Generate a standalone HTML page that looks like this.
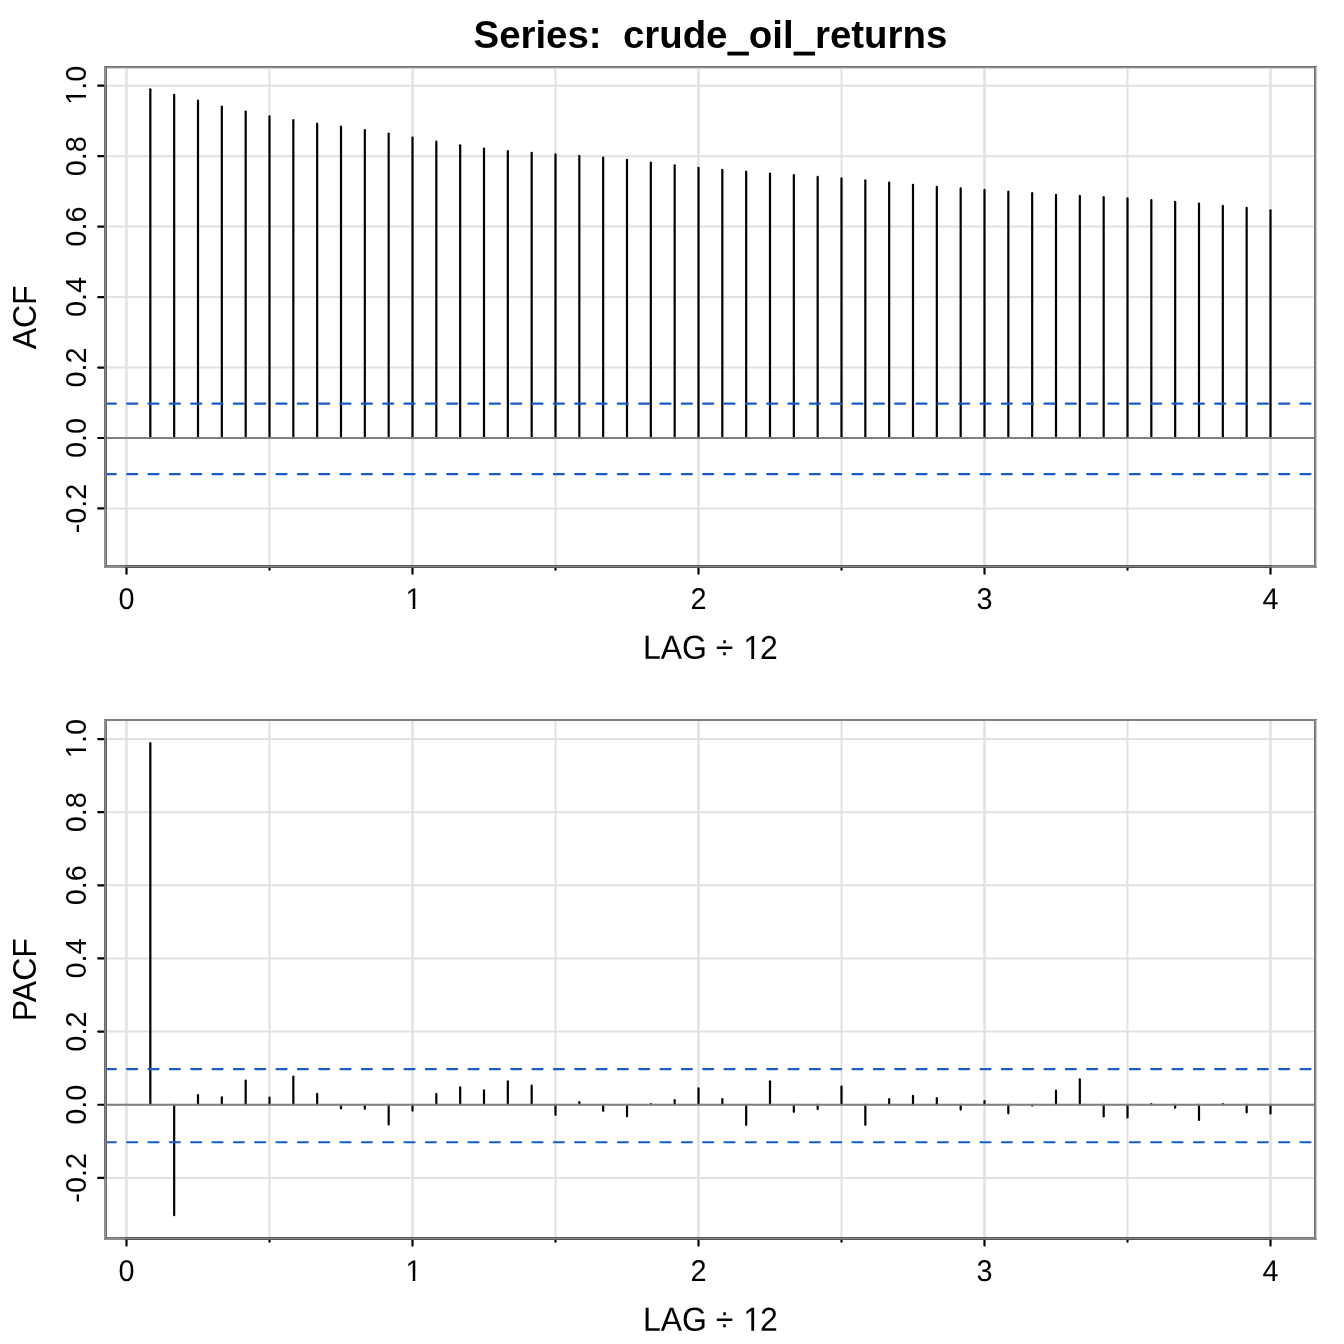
<!DOCTYPE html>
<html lang="en">
<head>
<meta charset="utf-8">
<title>Series: crude_oil_returns</title>
<style>
html,body{margin:0;padding:0;background:#fff;}
body{width:1344px;height:1344px;overflow:hidden;}
svg{display:block;font-family:"Liberation Sans",Arial,Helvetica,sans-serif;fill:#000;}
</style>
</head>
<body>
<svg width="1344" height="1344" viewBox="0 0 1344 1344">
<rect width="1344" height="1344" fill="#fff"/>
<defs><clipPath id="c1"><rect x="-28.01" y="-43.20" width="56.02" height="40.18"/><rect x="-28.01" y="-3.07" width="22.17" height="14.54"/><rect x="0.24" y="-3.07" width="2.55" height="3.32"/><rect x="8.85" y="-3.07" width="19.16" height="14.54"/></clipPath><clipPath id="c2"><rect x="-40.02" y="-43.20" width="80.04" height="40.18"/><rect x="-40.02" y="-3.07" width="22.17" height="14.54"/><rect x="-11.81" y="-3.07" width="2.55" height="3.32"/><rect x="-3.16" y="-3.07" width="43.18" height="14.54"/></clipPath><clipPath id="c3"><rect x="-87.48" y="-48.00" width="174.97" height="44.74"/><rect x="-87.48" y="-3.31" width="121.78" height="16.06"/><rect x="40.90" y="-3.31" width="2.83" height="3.56"/><rect x="50.62" y="-3.31" width="36.86" height="16.06"/></clipPath><clipPath id="ct"><rect x="0" y="0" width="1344" height="49.6"/><rect x="727.49" y="49.6" width="21.36" height="12"/><rect x="793.64" y="49.6" width="21.36" height="12"/></clipPath><clipPath id="c4"><rect x="-28.01" y="-43.20" width="56.02" height="40.18"/><rect x="-28.01" y="-3.07" width="22.17" height="14.54"/><rect x="0.24" y="-3.07" width="2.55" height="3.32"/><rect x="8.85" y="-3.07" width="19.16" height="14.54"/></clipPath><clipPath id="c5"><rect x="-40.02" y="-43.20" width="80.04" height="40.18"/><rect x="-40.02" y="-3.07" width="22.17" height="14.54"/><rect x="-11.96" y="-3.07" width="2.55" height="3.32"/><rect x="-3.16" y="-3.07" width="43.18" height="14.54"/></clipPath><clipPath id="c6"><rect x="-87.48" y="-48.00" width="174.97" height="44.74"/><rect x="-87.48" y="-3.31" width="121.78" height="16.06"/><rect x="40.90" y="-3.31" width="2.83" height="3.56"/><rect x="50.62" y="-3.31" width="36.86" height="16.06"/></clipPath></defs>
<line x1="126.50" y1="67.3" x2="126.50" y2="566.25" stroke="#e1e1e1" stroke-width="2"/>
<line x1="126.50" y1="67.3" x2="126.50" y2="566.25" stroke="#e1e1e1" stroke-width="2"/>
<line x1="269.50" y1="67.3" x2="269.50" y2="566.25" stroke="#e1e1e1" stroke-width="2"/>
<line x1="412.50" y1="67.3" x2="412.50" y2="566.25" stroke="#e1e1e1" stroke-width="2"/>
<line x1="412.50" y1="67.3" x2="412.50" y2="566.25" stroke="#e1e1e1" stroke-width="2"/>
<line x1="555.50" y1="67.3" x2="555.50" y2="566.25" stroke="#e1e1e1" stroke-width="2"/>
<line x1="698.50" y1="67.3" x2="698.50" y2="566.25" stroke="#e1e1e1" stroke-width="2"/>
<line x1="698.50" y1="67.3" x2="698.50" y2="566.25" stroke="#e1e1e1" stroke-width="2"/>
<line x1="841.50" y1="67.3" x2="841.50" y2="566.25" stroke="#e1e1e1" stroke-width="2"/>
<line x1="984.50" y1="67.3" x2="984.50" y2="566.25" stroke="#e1e1e1" stroke-width="2"/>
<line x1="984.50" y1="67.3" x2="984.50" y2="566.25" stroke="#e1e1e1" stroke-width="2"/>
<line x1="1127.50" y1="67.3" x2="1127.50" y2="566.25" stroke="#e1e1e1" stroke-width="2"/>
<line x1="1270.50" y1="67.3" x2="1270.50" y2="566.25" stroke="#e1e1e1" stroke-width="2"/>
<line x1="1270.50" y1="67.3" x2="1270.50" y2="566.25" stroke="#e1e1e1" stroke-width="2"/>
<line x1="105.5" y1="508.46" x2="1315.3" y2="508.46" stroke="#e1e1e1" stroke-width="2"/>
<line x1="105.5" y1="438.00" x2="1315.3" y2="438.00" stroke="#e1e1e1" stroke-width="2"/>
<line x1="105.5" y1="367.54" x2="1315.3" y2="367.54" stroke="#e1e1e1" stroke-width="2"/>
<line x1="105.5" y1="297.08" x2="1315.3" y2="297.08" stroke="#e1e1e1" stroke-width="2"/>
<line x1="105.5" y1="226.62" x2="1315.3" y2="226.62" stroke="#e1e1e1" stroke-width="2"/>
<line x1="105.5" y1="156.16" x2="1315.3" y2="156.16" stroke="#e1e1e1" stroke-width="2"/>
<line x1="105.5" y1="85.70" x2="1315.3" y2="85.70" stroke="#e1e1e1" stroke-width="2"/>
<line x1="150.33" y1="438.00" x2="150.33" y2="89.30" stroke="#000" stroke-width="2.2" stroke-linecap="round"/>
<line x1="174.17" y1="438.00" x2="174.17" y2="94.80" stroke="#000" stroke-width="2.2" stroke-linecap="round"/>
<line x1="198.00" y1="438.00" x2="198.00" y2="100.70" stroke="#000" stroke-width="2.2" stroke-linecap="round"/>
<line x1="221.83" y1="438.00" x2="221.83" y2="106.50" stroke="#000" stroke-width="2.2" stroke-linecap="round"/>
<line x1="245.67" y1="438.00" x2="245.67" y2="111.60" stroke="#000" stroke-width="2.2" stroke-linecap="round"/>
<line x1="269.50" y1="438.00" x2="269.50" y2="116.40" stroke="#000" stroke-width="2.2" stroke-linecap="round"/>
<line x1="293.33" y1="438.00" x2="293.33" y2="120.20" stroke="#000" stroke-width="2.2" stroke-linecap="round"/>
<line x1="317.17" y1="438.00" x2="317.17" y2="123.70" stroke="#000" stroke-width="2.2" stroke-linecap="round"/>
<line x1="341.00" y1="438.00" x2="341.00" y2="126.70" stroke="#000" stroke-width="2.2" stroke-linecap="round"/>
<line x1="364.83" y1="438.00" x2="364.83" y2="130.00" stroke="#000" stroke-width="2.2" stroke-linecap="round"/>
<line x1="388.67" y1="438.00" x2="388.67" y2="133.50" stroke="#000" stroke-width="2.2" stroke-linecap="round"/>
<line x1="412.50" y1="438.00" x2="412.50" y2="137.60" stroke="#000" stroke-width="2.2" stroke-linecap="round"/>
<line x1="436.33" y1="438.00" x2="436.33" y2="141.70" stroke="#000" stroke-width="2.2" stroke-linecap="round"/>
<line x1="460.17" y1="438.00" x2="460.17" y2="145.30" stroke="#000" stroke-width="2.2" stroke-linecap="round"/>
<line x1="484.00" y1="438.00" x2="484.00" y2="148.60" stroke="#000" stroke-width="2.2" stroke-linecap="round"/>
<line x1="507.83" y1="438.00" x2="507.83" y2="151.10" stroke="#000" stroke-width="2.2" stroke-linecap="round"/>
<line x1="531.67" y1="438.00" x2="531.67" y2="152.80" stroke="#000" stroke-width="2.2" stroke-linecap="round"/>
<line x1="555.50" y1="438.00" x2="555.50" y2="154.40" stroke="#000" stroke-width="2.2" stroke-linecap="round"/>
<line x1="579.33" y1="438.00" x2="579.33" y2="155.90" stroke="#000" stroke-width="2.2" stroke-linecap="round"/>
<line x1="603.17" y1="438.00" x2="603.17" y2="157.70" stroke="#000" stroke-width="2.2" stroke-linecap="round"/>
<line x1="627.00" y1="438.00" x2="627.00" y2="159.90" stroke="#000" stroke-width="2.2" stroke-linecap="round"/>
<line x1="650.83" y1="438.00" x2="650.83" y2="162.60" stroke="#000" stroke-width="2.2" stroke-linecap="round"/>
<line x1="674.67" y1="438.00" x2="674.67" y2="165.30" stroke="#000" stroke-width="2.2" stroke-linecap="round"/>
<line x1="698.50" y1="438.00" x2="698.50" y2="167.80" stroke="#000" stroke-width="2.2" stroke-linecap="round"/>
<line x1="722.33" y1="438.00" x2="722.33" y2="169.80" stroke="#000" stroke-width="2.2" stroke-linecap="round"/>
<line x1="746.17" y1="438.00" x2="746.17" y2="171.70" stroke="#000" stroke-width="2.2" stroke-linecap="round"/>
<line x1="770.00" y1="438.00" x2="770.00" y2="173.50" stroke="#000" stroke-width="2.2" stroke-linecap="round"/>
<line x1="793.83" y1="438.00" x2="793.83" y2="175.10" stroke="#000" stroke-width="2.2" stroke-linecap="round"/>
<line x1="817.67" y1="438.00" x2="817.67" y2="176.90" stroke="#000" stroke-width="2.2" stroke-linecap="round"/>
<line x1="841.50" y1="438.00" x2="841.50" y2="178.40" stroke="#000" stroke-width="2.2" stroke-linecap="round"/>
<line x1="865.33" y1="438.00" x2="865.33" y2="180.40" stroke="#000" stroke-width="2.2" stroke-linecap="round"/>
<line x1="889.17" y1="438.00" x2="889.17" y2="182.70" stroke="#000" stroke-width="2.2" stroke-linecap="round"/>
<line x1="913.00" y1="438.00" x2="913.00" y2="184.85" stroke="#000" stroke-width="2.2" stroke-linecap="round"/>
<line x1="936.83" y1="438.00" x2="936.83" y2="186.80" stroke="#000" stroke-width="2.2" stroke-linecap="round"/>
<line x1="960.67" y1="438.00" x2="960.67" y2="188.40" stroke="#000" stroke-width="2.2" stroke-linecap="round"/>
<line x1="984.50" y1="438.00" x2="984.50" y2="189.90" stroke="#000" stroke-width="2.2" stroke-linecap="round"/>
<line x1="1008.33" y1="438.00" x2="1008.33" y2="191.70" stroke="#000" stroke-width="2.2" stroke-linecap="round"/>
<line x1="1032.17" y1="438.00" x2="1032.17" y2="193.20" stroke="#000" stroke-width="2.2" stroke-linecap="round"/>
<line x1="1056.00" y1="438.00" x2="1056.00" y2="194.80" stroke="#000" stroke-width="2.2" stroke-linecap="round"/>
<line x1="1079.83" y1="438.00" x2="1079.83" y2="195.90" stroke="#000" stroke-width="2.2" stroke-linecap="round"/>
<line x1="1103.67" y1="438.00" x2="1103.67" y2="197.20" stroke="#000" stroke-width="2.2" stroke-linecap="round"/>
<line x1="1127.50" y1="438.00" x2="1127.50" y2="198.40" stroke="#000" stroke-width="2.2" stroke-linecap="round"/>
<line x1="1151.33" y1="438.00" x2="1151.33" y2="200.10" stroke="#000" stroke-width="2.2" stroke-linecap="round"/>
<line x1="1175.17" y1="438.00" x2="1175.17" y2="201.80" stroke="#000" stroke-width="2.2" stroke-linecap="round"/>
<line x1="1199.00" y1="438.00" x2="1199.00" y2="203.60" stroke="#000" stroke-width="2.2" stroke-linecap="round"/>
<line x1="1222.83" y1="438.00" x2="1222.83" y2="205.90" stroke="#000" stroke-width="2.2" stroke-linecap="round"/>
<line x1="1246.67" y1="438.00" x2="1246.67" y2="207.90" stroke="#000" stroke-width="2.2" stroke-linecap="round"/>
<line x1="1270.50" y1="438.00" x2="1270.50" y2="210.30" stroke="#000" stroke-width="2.2" stroke-linecap="round"/>
<line x1="105.5" y1="438.00" x2="1315.3" y2="438.00" stroke="#808080" stroke-width="2.2"/>
<line x1="105.5" y1="403.65" x2="1315.3" y2="403.65" stroke="#175cc8" stroke-width="2.1" stroke-dasharray="10.1 11.233" stroke-dashoffset="-0.3" stroke-linecap="round"/>
<line x1="105.5" y1="474.11" x2="1315.3" y2="474.11" stroke="#175cc8" stroke-width="2.1" stroke-dasharray="10.1 11.233" stroke-dashoffset="-0.3" stroke-linecap="round"/>
<line x1="126.50" y1="566.25" x2="126.50" y2="573.65" stroke="#000" stroke-width="2.2" stroke-linecap="round"/>
<line x1="269.50" y1="566.25" x2="269.50" y2="569.75" stroke="#000" stroke-width="2.2" stroke-linecap="round"/>
<line x1="412.50" y1="566.25" x2="412.50" y2="573.65" stroke="#000" stroke-width="2.2" stroke-linecap="round"/>
<line x1="555.50" y1="566.25" x2="555.50" y2="569.75" stroke="#000" stroke-width="2.2" stroke-linecap="round"/>
<line x1="698.50" y1="566.25" x2="698.50" y2="573.65" stroke="#000" stroke-width="2.2" stroke-linecap="round"/>
<line x1="841.50" y1="566.25" x2="841.50" y2="569.75" stroke="#000" stroke-width="2.2" stroke-linecap="round"/>
<line x1="984.50" y1="566.25" x2="984.50" y2="573.65" stroke="#000" stroke-width="2.2" stroke-linecap="round"/>
<line x1="1127.50" y1="566.25" x2="1127.50" y2="569.75" stroke="#000" stroke-width="2.2" stroke-linecap="round"/>
<line x1="1270.50" y1="566.25" x2="1270.50" y2="573.65" stroke="#000" stroke-width="2.2" stroke-linecap="round"/>
<line x1="105.5" y1="508.46" x2="98.20" y2="508.46" stroke="#000" stroke-width="2.2" stroke-linecap="round"/>
<line x1="105.5" y1="438.00" x2="98.20" y2="438.00" stroke="#000" stroke-width="2.2" stroke-linecap="round"/>
<line x1="105.5" y1="367.54" x2="98.20" y2="367.54" stroke="#000" stroke-width="2.2" stroke-linecap="round"/>
<line x1="105.5" y1="297.08" x2="98.20" y2="297.08" stroke="#000" stroke-width="2.2" stroke-linecap="round"/>
<line x1="105.5" y1="226.62" x2="98.20" y2="226.62" stroke="#000" stroke-width="2.2" stroke-linecap="round"/>
<line x1="105.5" y1="156.16" x2="98.20" y2="156.16" stroke="#000" stroke-width="2.2" stroke-linecap="round"/>
<line x1="105.5" y1="85.70" x2="98.20" y2="85.70" stroke="#000" stroke-width="2.2" stroke-linecap="round"/>
<rect x="104" y="66" width="1213" height="1" fill="#727272" shape-rendering="crispEdges"/>
<rect x="104" y="67" width="1213" height="1" fill="#909090" shape-rendering="crispEdges"/>
<rect x="104" y="68" width="1213" height="1" fill="#d4d4d4" shape-rendering="crispEdges"/>
<rect x="104" y="565" width="1213" height="1" fill="#747474" shape-rendering="crispEdges"/>
<rect x="104" y="566" width="1213" height="1" fill="#8c8c8c" shape-rendering="crispEdges"/>
<rect x="104" y="567" width="1213" height="1" fill="#8c8c8c" shape-rendering="crispEdges"/>
<rect x="104" y="67" width="1" height="500" fill="#8e8e8e" shape-rendering="crispEdges"/>
<rect x="105" y="67" width="1" height="500" fill="#8c8c8c" shape-rendering="crispEdges"/>
<rect x="106" y="67" width="1" height="500" fill="#757575" shape-rendering="crispEdges"/>
<rect x="1314" y="67" width="1" height="500" fill="#727272" shape-rendering="crispEdges"/>
<rect x="1315" y="67" width="1" height="500" fill="#8c8c8c" shape-rendering="crispEdges"/>
<rect x="1316" y="67" width="1" height="500" fill="#c8c8c8" shape-rendering="crispEdges"/>
<rect x="104" y="85" width="1" height="424" fill="#6a6a6a" shape-rendering="crispEdges"/>
<rect x="105" y="85" width="1" height="424" fill="#8c8c8c" shape-rendering="crispEdges"/>
<rect x="106" y="85" width="1" height="424" fill="#5e5e5e" shape-rendering="crispEdges"/>
<rect x="125" y="565" width="1147" height="1" fill="#555555" shape-rendering="crispEdges"/>
<rect x="125" y="566" width="1147" height="1" fill="#8a8a8a" shape-rendering="crispEdges"/>
<rect x="125" y="567" width="1147" height="1" fill="#555555" shape-rendering="crispEdges"/>
<text font-size="28.8" text-anchor="middle" transform="translate(126.50 609.05) rotate(0.06) scale(1 1.04)">0</text>
<text font-size="28.8" x="-8.01" y="0" transform="translate(412.50 609.05) rotate(0.06) scale(1 1.04)" clip-path="url(#c1)"><tspan dx="0.90">1</tspan></text>
<text font-size="28.8" text-anchor="middle" transform="translate(698.50 609.05) rotate(0.06) scale(1 1.04)">2</text>
<text font-size="28.8" text-anchor="middle" transform="translate(984.50 609.05) rotate(0.06) scale(1 1.04)">3</text>
<text font-size="28.8" text-anchor="middle" transform="translate(1270.50 609.05) rotate(0.06) scale(1 1.04)">4</text>
<text font-size="28.8" text-anchor="middle" transform="translate(85.90 508.46) rotate(-90) scale(1 1.04)">-0.2</text>
<text font-size="28.8" text-anchor="middle" transform="translate(85.90 438.00) rotate(-90) scale(1 1.04)">0.0</text>
<text font-size="28.8" text-anchor="middle" transform="translate(85.90 367.54) rotate(-90) scale(1 1.04)">0.2</text>
<text font-size="28.8" text-anchor="middle" transform="translate(85.90 297.08) rotate(-90) scale(1 1.04)">0.4</text>
<text font-size="28.8" text-anchor="middle" transform="translate(85.90 226.62) rotate(-90) scale(1 1.04)">0.6</text>
<text font-size="28.8" text-anchor="middle" transform="translate(85.90 156.16) rotate(-90) scale(1 1.04)">0.8</text>
<text font-size="28.8" x="-20.02" y="0" transform="translate(85.90 85.70) rotate(-90) scale(1 1.04)" clip-path="url(#c2)"><tspan dx="0.90">1</tspan><tspan dx="-0.90">.0</tspan></text>
<text font-size="32" x="-67.48" y="0" transform="translate(710.40 658.85) rotate(0.06) scale(1 1.04)" clip-path="url(#c3)">LAG ÷ <tspan dx="1.00">1</tspan><tspan dx="-1.00">2</tspan></text>
<text font-size="32" text-anchor="middle" transform="translate(36.40 317.38) rotate(-90) scale(1 1.04)">ACF</text>
<text x="710.4" y="47.8" font-size="38.4" font-weight="bold" text-anchor="middle" xml:space="preserve" clip-path="url(#ct)">Series:  crude<tspan dy="2.1" stroke="#000" stroke-width="2.4">_</tspan><tspan dy="-2.1">oil</tspan><tspan dy="2.1" stroke="#000" stroke-width="2.4">_</tspan><tspan dy="-2.1">returns</tspan></text>
<line x1="126.50" y1="720.0" x2="126.50" y2="1238.2" stroke="#e1e1e1" stroke-width="2"/>
<line x1="126.50" y1="720.0" x2="126.50" y2="1238.2" stroke="#e1e1e1" stroke-width="2"/>
<line x1="269.50" y1="720.0" x2="269.50" y2="1238.2" stroke="#e1e1e1" stroke-width="2"/>
<line x1="412.50" y1="720.0" x2="412.50" y2="1238.2" stroke="#e1e1e1" stroke-width="2"/>
<line x1="412.50" y1="720.0" x2="412.50" y2="1238.2" stroke="#e1e1e1" stroke-width="2"/>
<line x1="555.50" y1="720.0" x2="555.50" y2="1238.2" stroke="#e1e1e1" stroke-width="2"/>
<line x1="698.50" y1="720.0" x2="698.50" y2="1238.2" stroke="#e1e1e1" stroke-width="2"/>
<line x1="698.50" y1="720.0" x2="698.50" y2="1238.2" stroke="#e1e1e1" stroke-width="2"/>
<line x1="841.50" y1="720.0" x2="841.50" y2="1238.2" stroke="#e1e1e1" stroke-width="2"/>
<line x1="984.50" y1="720.0" x2="984.50" y2="1238.2" stroke="#e1e1e1" stroke-width="2"/>
<line x1="984.50" y1="720.0" x2="984.50" y2="1238.2" stroke="#e1e1e1" stroke-width="2"/>
<line x1="1127.50" y1="720.0" x2="1127.50" y2="1238.2" stroke="#e1e1e1" stroke-width="2"/>
<line x1="1270.50" y1="720.0" x2="1270.50" y2="1238.2" stroke="#e1e1e1" stroke-width="2"/>
<line x1="1270.50" y1="720.0" x2="1270.50" y2="1238.2" stroke="#e1e1e1" stroke-width="2"/>
<line x1="105.5" y1="1177.89" x2="1315.3" y2="1177.89" stroke="#e1e1e1" stroke-width="2"/>
<line x1="105.5" y1="1104.75" x2="1315.3" y2="1104.75" stroke="#e1e1e1" stroke-width="2"/>
<line x1="105.5" y1="1031.61" x2="1315.3" y2="1031.61" stroke="#e1e1e1" stroke-width="2"/>
<line x1="105.5" y1="958.47" x2="1315.3" y2="958.47" stroke="#e1e1e1" stroke-width="2"/>
<line x1="105.5" y1="885.33" x2="1315.3" y2="885.33" stroke="#e1e1e1" stroke-width="2"/>
<line x1="105.5" y1="812.19" x2="1315.3" y2="812.19" stroke="#e1e1e1" stroke-width="2"/>
<line x1="105.5" y1="739.05" x2="1315.3" y2="739.05" stroke="#e1e1e1" stroke-width="2"/>
<line x1="150.33" y1="1104.75" x2="150.33" y2="743.20" stroke="#000" stroke-width="2.2" stroke-linecap="round"/>
<line x1="174.17" y1="1104.75" x2="174.17" y2="1215.15" stroke="#000" stroke-width="2.2" stroke-linecap="round"/>
<line x1="198.00" y1="1104.75" x2="198.00" y2="1095.00" stroke="#000" stroke-width="2.2" stroke-linecap="round"/>
<line x1="221.83" y1="1104.75" x2="221.83" y2="1097.35" stroke="#000" stroke-width="2.2" stroke-linecap="round"/>
<line x1="245.67" y1="1104.75" x2="245.67" y2="1080.50" stroke="#000" stroke-width="2.2" stroke-linecap="round"/>
<line x1="269.50" y1="1104.75" x2="269.50" y2="1097.60" stroke="#000" stroke-width="2.2" stroke-linecap="round"/>
<line x1="293.33" y1="1104.75" x2="293.33" y2="1076.50" stroke="#000" stroke-width="2.2" stroke-linecap="round"/>
<line x1="317.17" y1="1104.75" x2="317.17" y2="1093.90" stroke="#000" stroke-width="2.2" stroke-linecap="round"/>
<line x1="341.00" y1="1104.75" x2="341.00" y2="1108.40" stroke="#000" stroke-width="2.2" stroke-linecap="round"/>
<line x1="364.83" y1="1104.75" x2="364.83" y2="1108.70" stroke="#000" stroke-width="2.2" stroke-linecap="round"/>
<line x1="388.67" y1="1104.75" x2="388.67" y2="1124.50" stroke="#000" stroke-width="2.2" stroke-linecap="round"/>
<line x1="412.50" y1="1104.75" x2="412.50" y2="1110.60" stroke="#000" stroke-width="2.2" stroke-linecap="round"/>
<line x1="436.33" y1="1104.75" x2="436.33" y2="1093.90" stroke="#000" stroke-width="2.2" stroke-linecap="round"/>
<line x1="460.17" y1="1104.75" x2="460.17" y2="1087.40" stroke="#000" stroke-width="2.2" stroke-linecap="round"/>
<line x1="484.00" y1="1104.75" x2="484.00" y2="1090.40" stroke="#000" stroke-width="2.2" stroke-linecap="round"/>
<line x1="507.83" y1="1104.75" x2="507.83" y2="1081.40" stroke="#000" stroke-width="2.2" stroke-linecap="round"/>
<line x1="531.67" y1="1104.75" x2="531.67" y2="1085.70" stroke="#000" stroke-width="2.2" stroke-linecap="round"/>
<line x1="555.50" y1="1104.75" x2="555.50" y2="1114.80" stroke="#000" stroke-width="2.2" stroke-linecap="round"/>
<line x1="579.33" y1="1104.75" x2="579.33" y2="1102.10" stroke="#000" stroke-width="2.2" stroke-linecap="round"/>
<line x1="603.17" y1="1104.75" x2="603.17" y2="1110.80" stroke="#000" stroke-width="2.2" stroke-linecap="round"/>
<line x1="627.00" y1="1104.75" x2="627.00" y2="1116.30" stroke="#000" stroke-width="2.2" stroke-linecap="round"/>
<line x1="650.83" y1="1104.75" x2="650.83" y2="1104.20" stroke="#000" stroke-width="2.2" stroke-linecap="round"/>
<line x1="674.67" y1="1104.75" x2="674.67" y2="1100.20" stroke="#000" stroke-width="2.2" stroke-linecap="round"/>
<line x1="698.50" y1="1104.75" x2="698.50" y2="1088.40" stroke="#000" stroke-width="2.2" stroke-linecap="round"/>
<line x1="722.33" y1="1104.75" x2="722.33" y2="1099.10" stroke="#000" stroke-width="2.2" stroke-linecap="round"/>
<line x1="746.17" y1="1104.75" x2="746.17" y2="1124.80" stroke="#000" stroke-width="2.2" stroke-linecap="round"/>
<line x1="770.00" y1="1104.75" x2="770.00" y2="1081.30" stroke="#000" stroke-width="2.2" stroke-linecap="round"/>
<line x1="793.83" y1="1104.75" x2="793.83" y2="1111.80" stroke="#000" stroke-width="2.2" stroke-linecap="round"/>
<line x1="817.67" y1="1104.75" x2="817.67" y2="1109.10" stroke="#000" stroke-width="2.2" stroke-linecap="round"/>
<line x1="841.50" y1="1104.75" x2="841.50" y2="1086.50" stroke="#000" stroke-width="2.2" stroke-linecap="round"/>
<line x1="865.33" y1="1104.75" x2="865.33" y2="1124.80" stroke="#000" stroke-width="2.2" stroke-linecap="round"/>
<line x1="889.17" y1="1104.75" x2="889.17" y2="1099.10" stroke="#000" stroke-width="2.2" stroke-linecap="round"/>
<line x1="913.00" y1="1104.75" x2="913.00" y2="1095.90" stroke="#000" stroke-width="2.2" stroke-linecap="round"/>
<line x1="936.83" y1="1104.75" x2="936.83" y2="1098.20" stroke="#000" stroke-width="2.2" stroke-linecap="round"/>
<line x1="960.67" y1="1104.75" x2="960.67" y2="1109.60" stroke="#000" stroke-width="2.2" stroke-linecap="round"/>
<line x1="984.50" y1="1104.75" x2="984.50" y2="1101.10" stroke="#000" stroke-width="2.2" stroke-linecap="round"/>
<line x1="1008.33" y1="1104.75" x2="1008.33" y2="1113.30" stroke="#000" stroke-width="2.2" stroke-linecap="round"/>
<line x1="1032.17" y1="1104.75" x2="1032.17" y2="1105.60" stroke="#000" stroke-width="2.2" stroke-linecap="round"/>
<line x1="1056.00" y1="1104.75" x2="1056.00" y2="1090.70" stroke="#000" stroke-width="2.2" stroke-linecap="round"/>
<line x1="1079.83" y1="1104.75" x2="1079.83" y2="1079.30" stroke="#000" stroke-width="2.2" stroke-linecap="round"/>
<line x1="1103.67" y1="1104.75" x2="1103.67" y2="1116.40" stroke="#000" stroke-width="2.2" stroke-linecap="round"/>
<line x1="1127.50" y1="1104.75" x2="1127.50" y2="1117.50" stroke="#000" stroke-width="2.2" stroke-linecap="round"/>
<line x1="1151.33" y1="1104.75" x2="1151.33" y2="1104.20" stroke="#000" stroke-width="2.2" stroke-linecap="round"/>
<line x1="1175.17" y1="1104.75" x2="1175.17" y2="1107.65" stroke="#000" stroke-width="2.2" stroke-linecap="round"/>
<line x1="1199.00" y1="1104.75" x2="1199.00" y2="1120.00" stroke="#000" stroke-width="2.2" stroke-linecap="round"/>
<line x1="1222.83" y1="1104.75" x2="1222.83" y2="1104.20" stroke="#000" stroke-width="2.2" stroke-linecap="round"/>
<line x1="1246.67" y1="1104.75" x2="1246.67" y2="1112.30" stroke="#000" stroke-width="2.2" stroke-linecap="round"/>
<line x1="1270.50" y1="1104.75" x2="1270.50" y2="1113.60" stroke="#000" stroke-width="2.2" stroke-linecap="round"/>
<line x1="105.5" y1="1104.75" x2="1315.3" y2="1104.75" stroke="#808080" stroke-width="2.2"/>
<line x1="105.5" y1="1069.09" x2="1315.3" y2="1069.09" stroke="#175cc8" stroke-width="2.1" stroke-dasharray="10.1 11.233" stroke-dashoffset="-0.3" stroke-linecap="round"/>
<line x1="105.5" y1="1142.23" x2="1315.3" y2="1142.23" stroke="#175cc8" stroke-width="2.1" stroke-dasharray="10.1 11.233" stroke-dashoffset="-0.3" stroke-linecap="round"/>
<line x1="126.50" y1="1238.2" x2="126.50" y2="1245.60" stroke="#000" stroke-width="2.2" stroke-linecap="round"/>
<line x1="269.50" y1="1238.2" x2="269.50" y2="1241.70" stroke="#000" stroke-width="2.2" stroke-linecap="round"/>
<line x1="412.50" y1="1238.2" x2="412.50" y2="1245.60" stroke="#000" stroke-width="2.2" stroke-linecap="round"/>
<line x1="555.50" y1="1238.2" x2="555.50" y2="1241.70" stroke="#000" stroke-width="2.2" stroke-linecap="round"/>
<line x1="698.50" y1="1238.2" x2="698.50" y2="1245.60" stroke="#000" stroke-width="2.2" stroke-linecap="round"/>
<line x1="841.50" y1="1238.2" x2="841.50" y2="1241.70" stroke="#000" stroke-width="2.2" stroke-linecap="round"/>
<line x1="984.50" y1="1238.2" x2="984.50" y2="1245.60" stroke="#000" stroke-width="2.2" stroke-linecap="round"/>
<line x1="1127.50" y1="1238.2" x2="1127.50" y2="1241.70" stroke="#000" stroke-width="2.2" stroke-linecap="round"/>
<line x1="1270.50" y1="1238.2" x2="1270.50" y2="1245.60" stroke="#000" stroke-width="2.2" stroke-linecap="round"/>
<line x1="105.5" y1="1177.89" x2="98.20" y2="1177.89" stroke="#000" stroke-width="2.2" stroke-linecap="round"/>
<line x1="105.5" y1="1104.75" x2="98.20" y2="1104.75" stroke="#000" stroke-width="2.2" stroke-linecap="round"/>
<line x1="105.5" y1="1031.61" x2="98.20" y2="1031.61" stroke="#000" stroke-width="2.2" stroke-linecap="round"/>
<line x1="105.5" y1="958.47" x2="98.20" y2="958.47" stroke="#000" stroke-width="2.2" stroke-linecap="round"/>
<line x1="105.5" y1="885.33" x2="98.20" y2="885.33" stroke="#000" stroke-width="2.2" stroke-linecap="round"/>
<line x1="105.5" y1="812.19" x2="98.20" y2="812.19" stroke="#000" stroke-width="2.2" stroke-linecap="round"/>
<line x1="105.5" y1="739.05" x2="98.20" y2="739.05" stroke="#000" stroke-width="2.2" stroke-linecap="round"/>
<rect x="104" y="719" width="1213" height="1" fill="#808080" shape-rendering="crispEdges"/>
<rect x="104" y="720" width="1213" height="1" fill="#808080" shape-rendering="crispEdges"/>
<rect x="104" y="1237" width="1213" height="1" fill="#747474" shape-rendering="crispEdges"/>
<rect x="104" y="1238" width="1213" height="1" fill="#8c8c8c" shape-rendering="crispEdges"/>
<rect x="104" y="1239" width="1213" height="1" fill="#8c8c8c" shape-rendering="crispEdges"/>
<rect x="104" y="720" width="1" height="519" fill="#8e8e8e" shape-rendering="crispEdges"/>
<rect x="105" y="720" width="1" height="519" fill="#8c8c8c" shape-rendering="crispEdges"/>
<rect x="106" y="720" width="1" height="519" fill="#757575" shape-rendering="crispEdges"/>
<rect x="1314" y="720" width="1" height="519" fill="#727272" shape-rendering="crispEdges"/>
<rect x="1315" y="720" width="1" height="519" fill="#8c8c8c" shape-rendering="crispEdges"/>
<rect x="1316" y="720" width="1" height="519" fill="#c8c8c8" shape-rendering="crispEdges"/>
<rect x="104" y="738" width="1" height="441" fill="#6a6a6a" shape-rendering="crispEdges"/>
<rect x="105" y="738" width="1" height="441" fill="#8c8c8c" shape-rendering="crispEdges"/>
<rect x="106" y="738" width="1" height="441" fill="#5e5e5e" shape-rendering="crispEdges"/>
<rect x="125" y="1237" width="1147" height="1" fill="#555555" shape-rendering="crispEdges"/>
<rect x="125" y="1238" width="1147" height="1" fill="#8a8a8a" shape-rendering="crispEdges"/>
<rect x="125" y="1239" width="1147" height="1" fill="#555555" shape-rendering="crispEdges"/>
<text font-size="28.8" text-anchor="middle" transform="translate(126.50 1281.00) rotate(0.06) scale(1 1.04)">0</text>
<text font-size="28.8" x="-8.01" y="0" transform="translate(412.50 1281.00) rotate(0.06) scale(1 1.04)" clip-path="url(#c4)"><tspan dx="0.90">1</tspan></text>
<text font-size="28.8" text-anchor="middle" transform="translate(698.50 1281.00) rotate(0.06) scale(1 1.04)">2</text>
<text font-size="28.8" text-anchor="middle" transform="translate(984.50 1281.00) rotate(0.06) scale(1 1.04)">3</text>
<text font-size="28.8" text-anchor="middle" transform="translate(1270.50 1281.00) rotate(0.06) scale(1 1.04)">4</text>
<text font-size="28.8" text-anchor="middle" transform="translate(85.90 1177.89) rotate(-90) scale(1 1.04)">-0.2</text>
<text font-size="28.8" text-anchor="middle" transform="translate(85.90 1104.75) rotate(-90) scale(1 1.04)">0.0</text>
<text font-size="28.8" text-anchor="middle" transform="translate(85.90 1031.61) rotate(-90) scale(1 1.04)">0.2</text>
<text font-size="28.8" text-anchor="middle" transform="translate(85.90 958.47) rotate(-90) scale(1 1.04)">0.4</text>
<text font-size="28.8" text-anchor="middle" transform="translate(85.90 885.33) rotate(-90) scale(1 1.04)">0.6</text>
<text font-size="28.8" text-anchor="middle" transform="translate(85.90 812.19) rotate(-90) scale(1 1.04)">0.8</text>
<text font-size="28.8" x="-20.02" y="0" transform="translate(85.90 739.05) rotate(-90) scale(1 1.04)" clip-path="url(#c5)"><tspan dx="0.90">1</tspan><tspan dx="-0.90">.0</tspan></text>
<text font-size="32" x="-67.48" y="0" transform="translate(710.40 1330.80) rotate(0.06) scale(1 1.04)" clip-path="url(#c6)">LAG ÷ <tspan dx="1.00">1</tspan><tspan dx="-1.00">2</tspan></text>
<text font-size="32" text-anchor="middle" transform="translate(36.40 979.70) rotate(-90) scale(1 1.04)">PACF</text>
</svg>
</body>
</html>
